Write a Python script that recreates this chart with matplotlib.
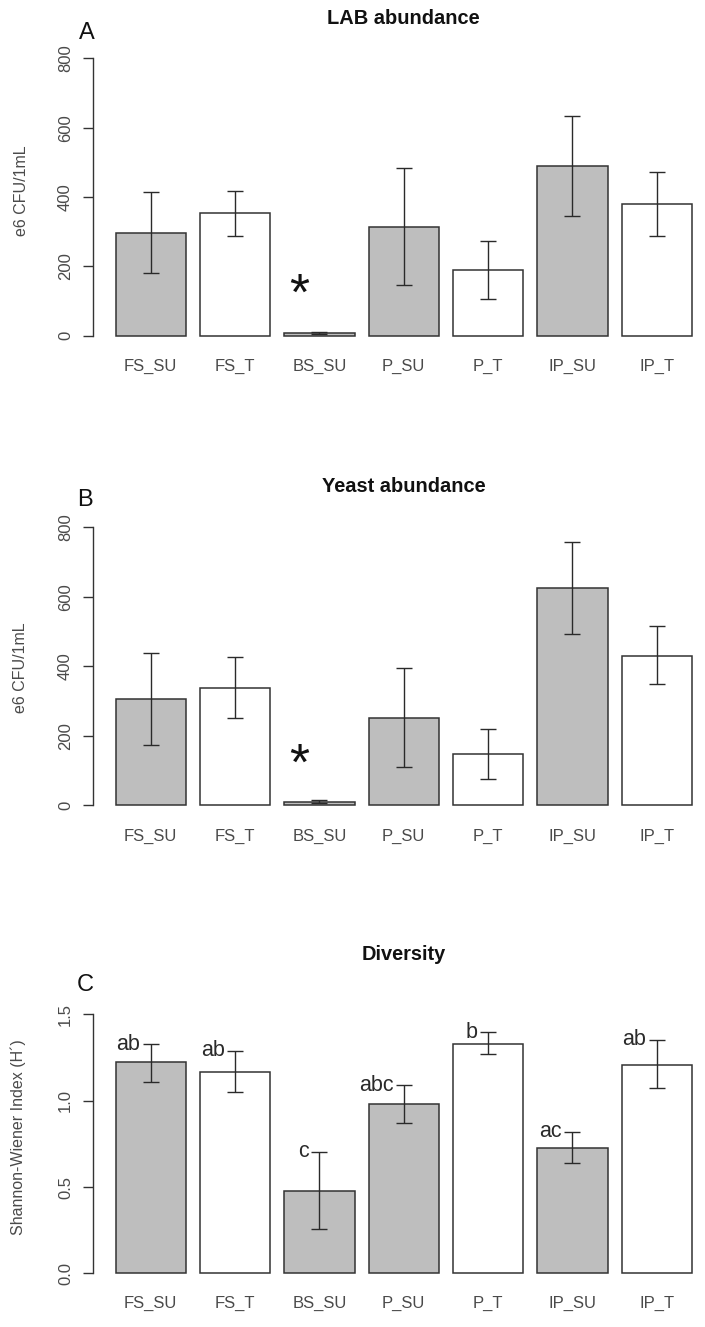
import matplotlib
matplotlib.use("Agg")
import matplotlib.pyplot as plt
import numpy as np

plt.rcParams['font.family'] = ['Liberation Sans', 'DejaVu Sans']

# ---------------- data ----------------
categories = ["FS_SU", "FS_T", "BS_SU", "P_SU", "P_T", "IP_SU", "IP_T"]
fill_colors = ["#bebebe", "#ffffff", "#bebebe", "#bebebe", "#ffffff", "#bebebe", "#ffffff"]

lab_mean = [297, 353, 8, 314, 190, 490, 379]
lab_low = [180, 288, 4, 146, 106, 346, 287]
lab_high = [415, 417, 12, 483, 274, 634, 471]

yeast_mean = [305, 338, 10, 252, 147, 626, 430]
yeast_low = [173, 251, 6, 109, 75, 493, 349]
yeast_high = [439, 426, 14, 396, 219, 759, 516]

div_mean = [1.222, 1.168, 0.478, 0.980, 1.330, 0.727, 1.208]
div_low = [1.110, 1.052, 0.257, 0.872, 1.270, 0.641, 1.071]
div_high = [1.328, 1.289, 0.704, 1.090, 1.396, 0.820, 1.353]
div_letters = ["ab", "ab", "c", "abc", "b", "ac", "ab"]

star_x = 2.81      # asterisk next to BS_SU
star_lab_y = 151
star_yeast_y = 149

abund_ticks = [0, 200, 400, 600, 800]
abund_ticklabels = ["0", "200", "400", "600", "800"]
div_ticks = [0.0, 0.5, 1.0, 1.5]
div_ticklabels = ["0.0", "0.5", "1.0", "1.5"]

# ---------------- layout ----------------
W, H = 705, 1327
fig = plt.figure(figsize=(W / 100, H / 100), dpi=100)

xpx_left, xpx_right = 92.6, 715.0
XLIM = (-0.128, 8.728)
positions = 0.7 + 1.2 * np.arange(len(categories))

def make_axes(top_px, bottom_px):
    return fig.add_axes([xpx_left / W, 1 - bottom_px / H,
                         (xpx_right - xpx_left) / W, (bottom_px - top_px) / H])

TXT = "#4a4a4a"
LINE = "#333333"

def style(ax, ylim, ticks, ticklabels):
    ax.set_xlim(*XLIM)
    ax.set_ylim(*ylim)
    for s in ["top", "right", "bottom"]:
        ax.spines[s].set_visible(False)
    ax.spines["left"].set_bounds(ticks[0], ticks[-1])
    ax.spines["left"].set_color(LINE)
    ax.spines["left"].set_linewidth(1.0)
    ax.set_yticks(ticks)
    ax.set_yticklabels(ticklabels, rotation=90, va="center", fontsize=12, color=TXT)
    ax.tick_params(axis="y", direction="out", length=7.2, width=1.0, color=LINE, pad=7)
    ax.set_xticks(positions)
    ax.set_xticklabels(categories, fontsize=12, color=TXT)
    ax.tick_params(axis="x", length=0, pad=9)
    ax.patch.set_alpha(0)

def draw_bars(ax, mean, low, high):
    ax.bar(positions, mean, width=1.0, color=fill_colors, edgecolor=LINE,
           linewidth=1.1, zorder=2)
    m = np.array(mean, dtype=float)
    yerr = np.vstack([m - np.array(low), np.array(high) - m])
    ax.errorbar(positions, m, yerr=yerr, fmt="none", ecolor="#2a2a2a",
                elinewidth=1.0, capsize=5.6, capthick=1.0, zorder=3)

# Panel A
axA = make_axes(47.2, 346.8)
style(axA, (-32, 832), abund_ticks, abund_ticklabels)
draw_bars(axA, lab_mean, lab_low, lab_high)
axA.annotate("*", xy=(star_x, star_lab_y), xytext=(0, -9), textcoords="offset points",
             ha="center", va="center", fontsize=37, color="#111111")

# Panel B
axB = make_axes(516.2, 816.1)
style(axB, (-32, 832), abund_ticks, abund_ticklabels)
draw_bars(axB, yeast_mean, yeast_low, yeast_high)
axB.annotate("*", xy=(star_x, star_yeast_y), xytext=(0, -9), textcoords="offset points",
             ha="center", va="center", fontsize=37, color="#111111")

# Panel C
axC = make_axes(1004.0, 1283.7)
style(axC, (-0.06, 1.56), div_ticks, div_ticklabels)
draw_bars(axC, div_mean, div_low, div_high)
for xp, hi, lt in zip(positions, div_high, div_letters):
    axC.annotate(lt, xy=(xp, hi), xytext=(-7.5, 0), textcoords="offset points",
                 ha="right", va="center", fontsize=15.5, color="#2a2a2a")

# titles, panel letters, y labels (figure pixel positions)
def ftext(xp, yp, s, **kw):
    fig.text(xp / W, 1 - yp / H, s, **kw)

title_x = (xpx_left + xpx_right) / 2
ftext(title_x, 18.3, "LAB abundance", ha="center", va="center", fontsize=14.4, weight="bold", color="#111111")
ftext(title_x, 486.7, "Yeast abundance", ha="center", va="center", fontsize=14.4, weight="bold", color="#111111")
ftext(title_x, 955, "Diversity", ha="center", va="center", fontsize=14.4, weight="bold", color="#111111")

ftext(86.7, 33.3, "A", ha="center", va="center", fontsize=17, color="#111111")
ftext(85, 500, "B", ha="center", va="center", fontsize=17, color="#111111")
ftext(85, 985, "C", ha="center", va="center", fontsize=17, color="#111111")

ftext(21.7, 191, "e6 CFU/1mL", ha="center", va="center", rotation=90, fontsize=11.5, color=TXT)
ftext(20.5, 667.5, "e6 CFU/1mL", ha="center", va="center", rotation=90, fontsize=11.5, color=TXT)
ftext(18.5, 1137, "Shannon-Wiener Index (H\u00b4)", ha="center", va="center", rotation=90, fontsize=11.5, color=TXT)

fig.savefig("out.png", dpi=100)
